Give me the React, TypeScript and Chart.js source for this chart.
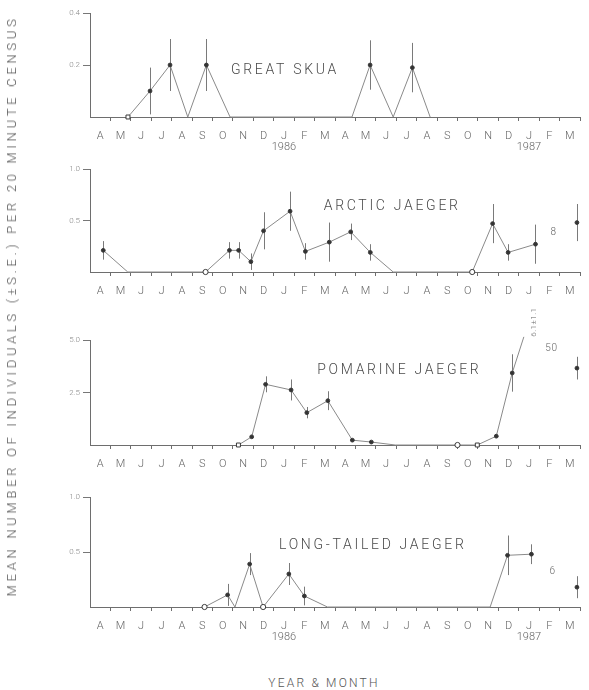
import React, { useEffect, useRef } from 'react';
import { Chart, registerables } from 'chart.js';

Chart.register(...registerables);

// ---------- axis labels ----------
const monthLetters = ['A','M','J','J','A','S','O','N','D','J','F','M','A','M','J','J','A','S','O','N','D','J','F','M'];
const yearMonthIndex = [9, 21];
const yearLabels = ['1986', '1987'];

// ---------- Great Skua ----------
const skuaMonth = [1.86, 2.94, 3.92, 4.79, 5.70, 6.86, 12.83, 13.72, 14.85, 15.79, 16.66];
const skuaMean = [0, 0.10, 0.20, 0, 0.20, 0, 0, 0.20, 0, 0.19, 0];
const skuaSE = [0, 0.09, 0.10, 0, 0.10, 0, 0, 0.095, 0, 0.095, 0];
const skuaMarker = ['square','dot','dot','none','dot','none','none','dot','none','dot','none'];

// ---------- Arctic Jaeger ----------
const arcticMonth = [0.65, 1.85, 5.66, 6.83, 7.28, 7.88, 8.5, 9.8, 10.55, 11.72, 12.77, 13.73, 14.85, 18.72, 19.72, 20.48, 21.82];
const arcticMean = [0.21, 0, 0, 0.21, 0.21, 0.10, 0.40, 0.59, 0.20, 0.29, 0.39, 0.19, 0, 0, 0.47, 0.19, 0.27];
const arcticSE = [0.09, 0, 0, 0.08, 0.08, 0.08, 0.18, 0.19, 0.08, 0.19, 0.08, 0.08, 0, 0, 0.19, 0.08, 0.19];
const arcticMarker = ['dot','none','circle','dot','dot','dot','dot','dot','dot','dot','dot','dot','none','circle','dot','dot','dot'];
const arcticLoneMonth = [23.85];
const arcticLoneMean = [0.48];
const arcticLoneSE = [0.18];

// ---------- Pomarine Jaeger ----------
const pomMonth = [7.27, 7.92, 8.6, 9.85, 10.62, 11.65, 12.85, 13.78, 14.95, 18.0, 18.97, 19.9, 20.68, 21.25];
const pomMean = [0, 0.39, 2.89, 2.62, 1.54, 2.11, 0.23, 0.14, 0, 0, 0, 0.42, 3.43, 5.15];
const pomSE = [0, 0, 0.38, 0.5, 0.27, 0.45, 0, 0, 0, 0, 0, 0, 0.89, 0];
const pomMarker = ['square','dot','dot','dot','dot','dot','dot','dot','none','circle','square','dot','dot','none'];
const pomLoneMonth = [23.85];
const pomLoneMean = [3.66];
const pomLoneSE = [0.54];

// ---------- Long-tailed Jaeger ----------
const ltjMonth = [5.61, 6.74, 7.1, 7.82, 8.48, 9.74, 10.5, 11.63, 19.6, 20.45, 21.62];
const ltjMean = [0, 0.11, 0, 0.39, 0, 0.30, 0.10, 0, 0, 0.47, 0.48];
const ltjSE = [0, 0.1, 0, 0.1, 0, 0.1, 0.085, 0, 0, 0.18, 0.09];
const ltjMarker = ['circle','dot','none','dot','circle','dot','dot','none','none','dot','dot'];
const ltjLoneMonth = [23.85];
const ltjLoneMean = [0.18];
const ltjLoneSE = [0.1];

// ---------- in-plot notes ----------
const arcticNoteText = ['8'];
const arcticNoteMonth = [22.7];
const arcticNoteValue = [0.38];
const pomNoteText = ['50', '6.1±1.1'];
const pomNoteMonth = [22.6, 21.75];
const pomNoteValue = [4.6, 5.85];
const pomNoteRotate = [0, -90];
const ltjNoteText = ['6'];
const ltjNoteMonth = [22.65];
const ltjNoteValue = [0.32];

const FONT = 'Roboto, "DejaVu Sans", sans-serif';
const LINE = '#8a8a8a';
const INK = '#4a4a4a';

type Series = { month: number[]; mean: number[]; se: number[]; marker?: string[]; connected: boolean };
type Note = { text: string; month: number; value: number; rotate: number };
type Panel = {
  title: string; titleMonth: number; titleValue: number;
  yMax: number; showYears: boolean;
  series: Series[]; notes: Note[];
  areaTop: number; areaBottom: number; padTop: number;
};

const mkNotes = (t: string[], m: number[], v: number[], r?: number[]): Note[] =>
  t.map((text, i) => ({ text, month: m[i], value: v[i], rotate: r ? r[i] : 0 }));

const panels: Panel[] = [
  {
    title: 'GREAT SKUA', titleMonth: 9.55, titleValue: 0.18, yMax: 0.4, showYears: true,
    series: [{ month: skuaMonth, mean: skuaMean, se: skuaSE, marker: skuaMarker, connected: true }],
    notes: [], areaTop: 13, areaBottom: 117, padTop: 10,
  },
  {
    title: 'ARCTIC JAEGER', titleMonth: 14.8, titleValue: 0.64, yMax: 1.0, showYears: false,
    series: [
      { month: arcticMonth, mean: arcticMean, se: arcticSE, marker: arcticMarker, connected: true },
      { month: arcticLoneMonth, mean: arcticLoneMean, se: arcticLoneSE, connected: false },
    ],
    notes: mkNotes(arcticNoteText, arcticNoteMonth, arcticNoteValue), areaTop: 169, areaBottom: 272, padTop: 10,
  },
  {
    title: 'POMARINE JAEGER', titleMonth: 15.15, titleValue: 3.57, yMax: 5.0, showYears: false,
    series: [
      { month: pomMonth, mean: pomMean, se: pomSE, marker: pomMarker, connected: true },
      { month: pomLoneMonth, mean: pomLoneMean, se: pomLoneSE, connected: false },
    ],
    notes: mkNotes(pomNoteText, pomNoteMonth, pomNoteValue, pomNoteRotate), areaTop: 340, areaBottom: 445, padTop: 40,
  },
  {
    title: 'LONG-TAILED JAEGER', titleMonth: 13.85, titleValue: 0.56, yMax: 1.0, showYears: true,
    series: [
      { month: ltjMonth, mean: ltjMean, se: ltjSE, marker: ltjMarker, connected: true },
      { month: ltjLoneMonth, mean: ltjLoneMean, se: ltjLoneSE, connected: false },
    ],
    notes: mkNotes(ltjNoteText, ltjNoteMonth, ltjNoteValue), areaTop: 497, areaBottom: 607, padTop: 10,
  },
];

const X_AXIS_H = 42;
const Y_AXIS_W = 90;
const CANVAS_W = 589;

const errorBarPlugin = {
  id: 'errorBars',
  beforeDatasetsDraw(chart: any) {
    const { ctx } = chart;
    const xs = chart.scales.x;
    const ys = chart.scales.y;
    chart.data.datasets.forEach((ds: any) => {
      if (!ds.se) return;
      ds.data.forEach((p: any, i: number) => {
        const se = ds.se[i];
        if (!se) return;
        const px = Math.round(xs.getPixelForValue(p.x)) + 0.5;
        ctx.save();
        ctx.strokeStyle = '#7a7a7a';
        ctx.lineWidth = 1;
        ctx.beginPath();
        ctx.moveTo(px, ys.getPixelForValue(p.y + se));
        ctx.lineTo(px, ys.getPixelForValue(Math.max(0, p.y - se)));
        ctx.stroke();
        ctx.restore();
      });
    });
  },
};

function markerStyle(m: string) {
  if (m === 'square') return { style: 'rect', r: 2.8, bg: '#ffffff' };
  if (m === 'circle') return { style: 'circle', r: 2.6, bg: '#ffffff' };
  if (m === 'dot') return { style: 'circle', r: 1.9, bg: '#333333' };
  return { style: 'circle', r: 0, bg: '#333333' };
}

function PanelChart({ panel }: { panel: Panel }) {
  const ref = useRef<HTMLCanvasElement | null>(null);
  const canvasTop = panel.areaTop - panel.padTop;
  const canvasH = panel.padTop + (panel.areaBottom - panel.areaTop) + X_AXIS_H;

  useEffect(() => {
    if (!ref.current) return;
    const notesPlugin = {
      id: 'panelNotes',
      afterDatasetsDraw(chart: any) {
        const { ctx } = chart;
        const xs = chart.scales.x;
        const ys = chart.scales.y;
        ctx.save();
        ctx.fillStyle = INK;
        ctx.font = `300 14px ${FONT}`;
        (ctx as any).letterSpacing = '2.7px';
        ctx.textAlign = 'center';
        ctx.textBaseline = 'middle';
        ctx.fillText(panel.title, xs.getPixelForValue(panel.titleMonth), ys.getPixelForValue(panel.titleValue));
        (ctx as any).letterSpacing = '0.5px';
        ctx.fillStyle = '#666';
        panel.notes.forEach((n) => {
          const px = xs.getPixelForValue(n.month);
          const py = ys.getPixelForValue(n.value);
          ctx.save();
          ctx.translate(px, py);
          ctx.rotate((n.rotate * Math.PI) / 180);
          ctx.font = `300 ${n.rotate ? 8 : 10}px ${FONT}`;
          ctx.fillText(n.text, 0, 0);
          ctx.restore();
        });
        ctx.restore();
      },
    };

    const datasets = panel.series.map((s) => {
      const marks = (s.marker || s.month.map(() => 'dot')).map(markerStyle);
      return {
        data: s.month.map((m, i) => ({ x: m, y: s.mean[i] })),
        se: s.se,
        showLine: s.connected,
        borderColor: LINE,
        borderWidth: 1,
        tension: 0,
        clip: false as any,
        pointStyle: marks.map((k) => k.style),
        pointRadius: marks.map((k) => k.r),
        pointHoverRadius: marks.map((k) => k.r),
        pointBackgroundColor: marks.map((k) => k.bg),
        pointBorderColor: '#3a3a3a',
        pointBorderWidth: 1,
      };
    });

    const chart = new Chart(ref.current, {
      type: 'line',
      data: { datasets: datasets as any },
      plugins: [errorBarPlugin, notesPlugin],
      options: {
        responsive: false,
        animation: false,
        events: [],
        layout: { padding: { top: panel.padTop, left: 0, right: 3, bottom: 0 } },
        plugins: { legend: { display: false }, tooltip: { enabled: false }, title: { display: false } },
        scales: {
          x: {
            type: 'linear',
            min: 0,
            max: 24,
            afterFit: (s: any) => { s.height = X_AXIS_H; },
            border: { display: true, color: '#6e6e6e', width: 1 },
            grid: {
              drawOnChartArea: false,
              drawTicks: true,
              tickLength: 4,
              color: (c: any) => (c.tick && c.tick.value % 1 === 0 && c.tick.value > 0 ? '#6e6e6e' : 'rgba(0,0,0,0)'),
            },
            ticks: {
              stepSize: 0.5,
              autoSkip: false,
              maxRotation: 0,
              minRotation: 0,
              padding: 9,
              color: '#666',
              font: { family: FONT, size: 11, weight: 300 as any, lineHeight: 1.05 },
              callback: (v: any) => {
                const val = Number(v);
                if (Math.abs(val % 1 - 0.5) > 1e-6) return '';
                const i = Math.floor(val);
                const letter = monthLetters[i];
                const yi = yearMonthIndex.indexOf(i);
                if (panel.showYears && yi >= 0) return [letter, yearLabels[yi]];
                return letter;
              },
            },
          },
          y: {
            type: 'linear',
            min: 0,
            max: panel.yMax,
            afterFit: (s: any) => { s.width = Y_AXIS_W; },
            border: { display: true, color: '#6e6e6e', width: 1 },
            grid: {
              drawOnChartArea: false,
              drawTicks: true,
              tickLength: 7,
              color: (c: any) => (c.tick && c.tick.value === 0 ? 'rgba(0,0,0,0)' : '#777'),
            },
            ticks: {
              stepSize: panel.yMax / 2,
              padding: 3,
              color: '#888',
              font: { family: FONT, size: 8, weight: 300 as any },
              callback: (v: any) => (Number(v) === 0 ? '' : Number(v).toFixed(1)),
            },
          },
        },
      },
    });
    return () => chart.destroy();
  }, [panel]);

  return (
    <canvas
      ref={ref}
      width={CANVAS_W}
      height={canvasH}
      style={{ position: 'absolute', left: 0, top: canvasTop, width: CANVAS_W, height: canvasH }}
    />
  );
}

export default function App() {
  return (
    <div style={{ position: 'absolute', left: 0, top: 0, width: 589, height: 690, background: '#fff', overflow: 'hidden' }}>
      {panels.map((p) => (
        <PanelChart key={p.title} panel={p} />
      ))}
      <div
        style={{
          position: 'absolute', left: 12, top: 306,
          transform: 'translate(-50%, -50%) rotate(-90deg)',
          whiteSpace: 'nowrap', fontFamily: FONT, fontWeight: 300, fontSize: 13,
          letterSpacing: '3.7px', color: '#555', lineHeight: '14px',
        }}
      >
        MEAN NUMBER OF INDIVIDUALS (±S.E.) PER 20 MINUTE CENSUS
      </div>
      <div
        style={{
          position: 'absolute', left: 324, top: 683,
          transform: 'translate(-50%, -50%)',
          whiteSpace: 'nowrap', fontFamily: FONT, fontWeight: 300, fontSize: 12,
          letterSpacing: '2.2px', color: '#555', lineHeight: '14px',
        }}
      >
        YEAR &amp; MONTH
      </div>
    </div>
  );
}
